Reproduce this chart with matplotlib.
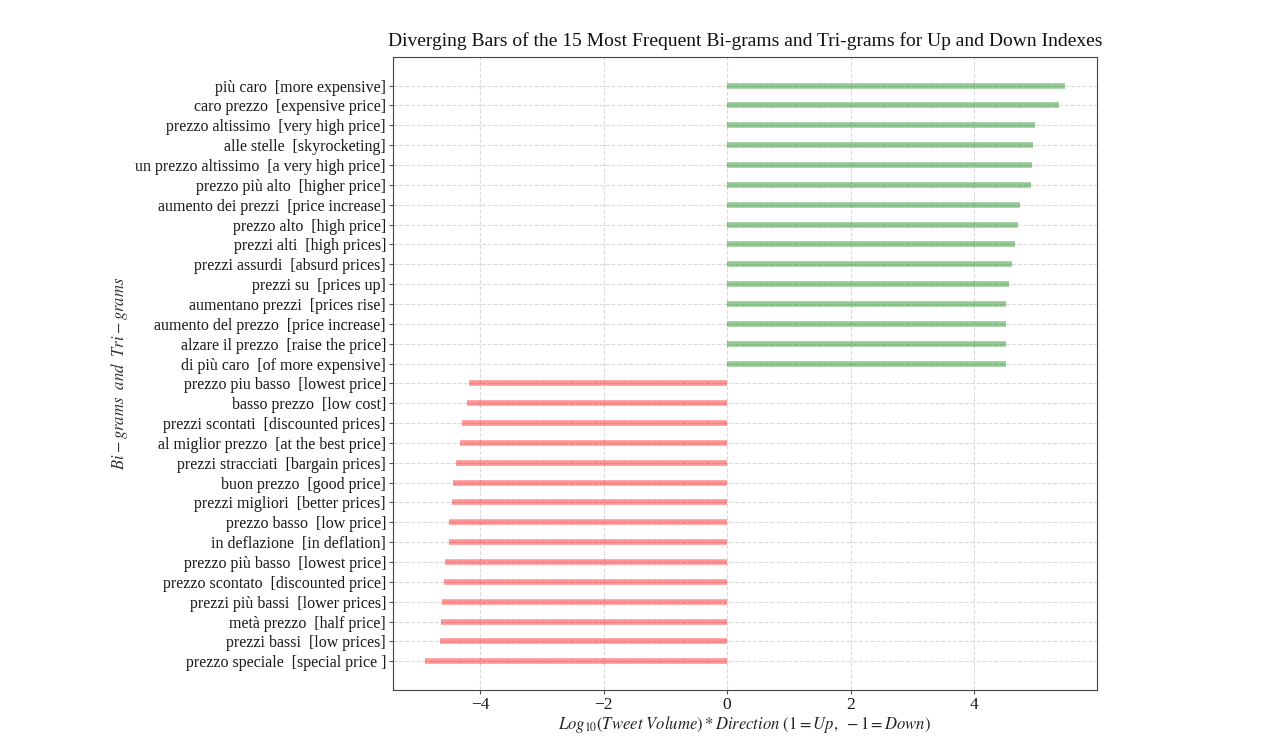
import numpy as np
import matplotlib
matplotlib.use('Agg')
import matplotlib.pyplot as plt

plt.rcParams['font.family'] = ['Liberation Serif', 'DejaVu Serif']
plt.rcParams['mathtext.fontset'] = 'stix'

# top to bottom as shown in the chart
labels = [
    'più caro  [more expensive]',
    'caro prezzo  [expensive price]',
    'prezzo altissimo  [very high price]',
    'alle stelle  [skyrocketing]',
    'un prezzo altissimo  [a very high price]',
    'prezzo più alto  [higher price]',
    'aumento dei prezzi  [price increase]',
    'prezzo alto  [high price]',
    'prezzi alti  [high prices]',
    'prezzi assurdi  [absurd prices]',
    'prezzi su  [prices up]',
    'aumentano prezzi  [prices rise]',
    'aumento del prezzo  [price increase]',
    'alzare il prezzo  [raise the price]',
    'di più caro  [of more expensive]',
    'prezzo piu basso  [lowest price]',
    'basso prezzo  [low cost]',
    'prezzi scontati  [discounted prices]',
    'al miglior prezzo  [at the best price]',
    'prezzi stracciati  [bargain prices]',
    'buon prezzo  [good price]',
    'prezzi migliori  [better prices]',
    'prezzo basso  [low price]',
    'in deflazione  [in deflation]',
    'prezzo più basso  [lowest price]',
    'prezzo scontato  [discounted price]',
    'prezzi più bassi  [lower prices]',
    'metà prezzo  [half price]',
    'prezzi bassi  [low prices]',
    'prezzo speciale  [special price ]',
]
values = [5.47, 5.38, 4.98, 4.95, 4.94, 4.92, 4.74, 4.71, 4.67, 4.61,
          4.57, 4.52, 4.52, 4.51, 4.51,
          -4.18, -4.21, -4.29, -4.33, -4.39, -4.43, -4.46, -4.50, -4.51,
          -4.56, -4.58, -4.61, -4.64, -4.65, -4.89]

values = np.array(values)
y = np.arange(len(values))[::-1]
colors = ['green' if v > 0 else 'red' for v in values]

fig = plt.figure(figsize=(12.8, 7.38), dpi=100)
ax = fig.add_axes([0.307, 0.065, 0.55, 0.858])
ax.hlines(y=y, xmin=0, xmax=values, color=colors, alpha=0.42, linewidth=4)
ax.set_xlim(-5.41, 5.99)
ax.set_yticks(y)
ax.set_yticklabels(labels)
ax.tick_params(color='#555555', length=3, pad=2)
ax.tick_params(axis='y', labelsize=11.5, labelcolor='#1a1a1a')
ax.tick_params(axis='x', labelsize=12.5, labelcolor='#1a1a1a')
for s in ax.spines.values():
    s.set_color('#444444')
ax.set_title('Diverging Bars of the 15 Most Frequent Bi-grams and Tri-grams for Up and Down Indexes',
             fontsize=14, color='#111111', pad=8)
ax.set_xlabel(r'$Log_{10}(Tweet\ Volume) * Direction\ (1 = Up,\ -1 = Down)$',
              fontsize=12, labelpad=1, color='#222222')
ax.set_ylabel(r'$Bi-grams\ \ and\ \ Tri-grams$', fontsize=12, color='#333333')
ax.grid(linestyle='--', color='#cccccc', alpha=0.7, linewidth=0.8)

fig.savefig('out.png', dpi=100)
